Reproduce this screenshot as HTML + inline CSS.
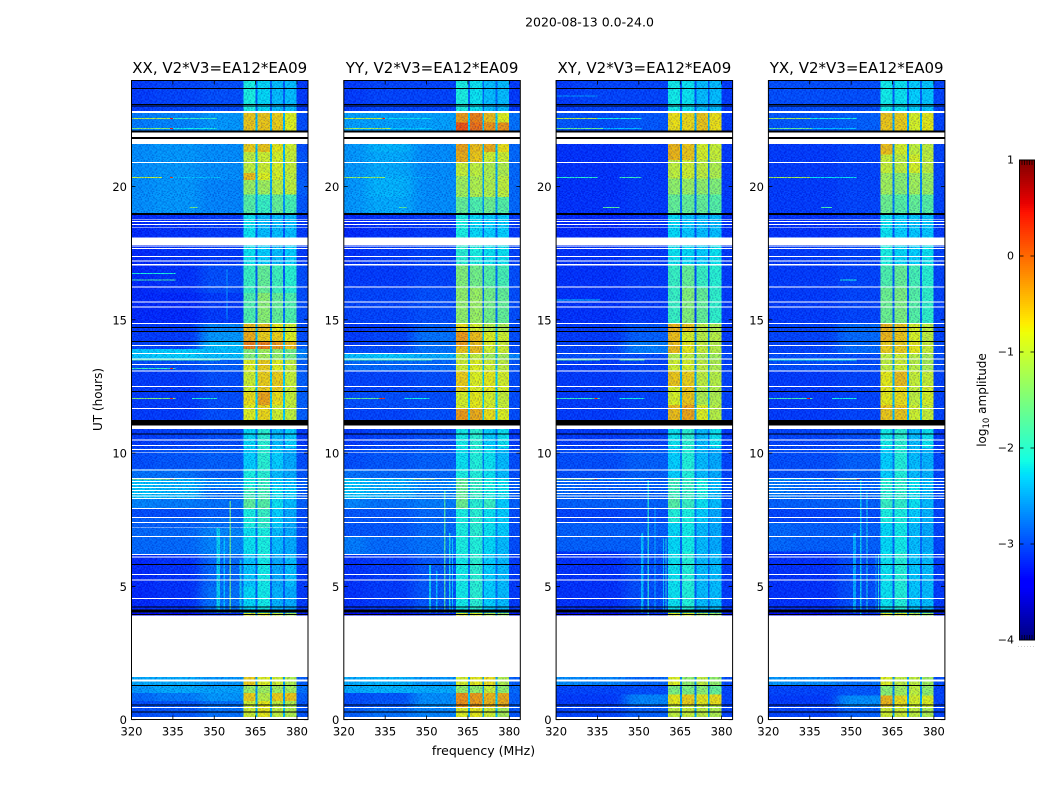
<!DOCTYPE html>
<html>
<head>
<meta charset="utf-8">
<title>2020-08-13 dynamic spectra</title>
<style>
html,body{margin:0;padding:0;background:#fff;width:1050px;height:800px;overflow:hidden}
svg{display:block}
text{font-family:"DejaVu Sans","Liberation Sans",sans-serif;fill:#000}
</style>
</head>
<body>
<svg id="fig" xmlns="http://www.w3.org/2000/svg" width="1050" height="800" viewBox="0 0 1050 800">
  <defs id="defs">
    <filter id="hblur" x="-10%" y="0%" width="120%" height="100%" color-interpolation-filters="sRGB"><feGaussianBlur stdDeviation="6 0"/></filter>
  </defs>
  <text x="589.5" y="26.5" text-anchor="middle" font-size="12.5">2020-08-13 0.0-24.0</text>
  <text x="483.5" y="755" text-anchor="middle" font-size="12.5">frequency (MHz)</text>
  <text transform="translate(102,399.5) rotate(-90)" text-anchor="middle" font-size="12">UT (hours)</text>
  <text transform="translate(986,400) rotate(-90)" text-anchor="middle" font-size="12">log<tspan font-size="8.5" dy="3">10</tspan><tspan dy="-3"> amplitude</tspan></text>
  <g id="panels"></g>
  <g id="colorbar"></g>
</svg>
<script>
// Axis ranges and tick labels
const freqTicks = [320, 335, 350, 365, 380];
const timeTicks = [0, 5, 10, 15, 20];
const colorbarTicks = [1, 0, -1, -2, -3, -4];
const colorbarMinorTicks = [1, 2, 3, 4, 5];
const panelTitles = ["XX, V2*V3=EA12*EA09", "YY, V2*V3=EA12*EA09", "XY, V2*V3=EA12*EA09", "YX, V2*V3=EA12*EA09"];

// Frequency cell edges (MHz); columns: low, mid, high background, band 1, gap, band 2, gap, band 3, gap, band 4, edge
const freqEdges = [320, 328, 345, 360.6, 365.0, 365.7, 370.2, 370.9, 375.0, 375.7, 379.9, 384];

// Rows: UT start, UT end, bgLow, bgMid, bgHigh, band1, band2, band3, band4, gap, edge (log10 amplitude)
const xxRows = [
[24,22.8,-3.1,-3.05,-3.0,-2.1,-2.25,-2.4,-2.4,-2.9,-3.1],
[22.8,21.6,-2.75,-2.7,-2.6,-0.55,-0.55,-0.6,-0.8,-2.4,-3.0],
[21.6,21.3,-2.65,-2.6,-2.65,-0.6,-0.55,-0.75,-0.9,-2.4,-3.0],
[21.3,20.5,-2.65,-2.6,-2.65,-1.0,-0.9,-0.85,-0.95,-2.4,-2.95],
[20.5,20.25,-2.65,-2.6,-2.65,-0.5,-0.8,-0.85,-1.0,-2.4,-2.95],
[20.25,19.7,-2.65,-2.6,-2.7,-1.25,-1.2,-1.05,-1.0,-2.5,-2.9],
[19.7,18.95,-2.65,-2.6,-2.7,-1.7,-1.9,-1.6,-1.8,-2.6,-2.95],
[18.95,18.1,-3.2,-3.15,-3.1,-2.2,-2.4,-2.4,-2.4,-2.95,-3.1],
[18.1,17.1,-3.2,-3.15,-3.1,-2.2,-2.3,-2.4,-2.3,-2.95,-3.1],
[17.1,16.0,-3.2,-3.15,-3.0,-1.9,-1.6,-1.85,-2.0,-2.9,-3.0],
[16.0,14.87,-3.2,-3.2,-3.1,-1.75,-1.35,-1.6,-1.75,-2.8,-3.0],
[14.87,14.57,-3.1,-3.1,-2.7,-0.5,-0.5,-0.75,-0.9,-2.4,-3.0],
[14.57,14.19,-3.1,-3.1,-2.6,-0.4,-0.6,-0.6,-0.8,-2.4,-3.0],
[14.19,13.9,-3.05,-3.05,-2.4,-0.15,-0.15,-0.3,-0.5,-2.3,-2.9],
[13.9,13.5,-2.35,-2.3,-2.4,-1.4,-1.2,-1.3,-1.5,-2.4,-2.7],
[13.5,13.08,-3.0,-3.0,-2.9,-0.8,-0.6,-0.8,-1.0,-2.4,-2.9],
[13.08,12.3,-3.1,-3.1,-3.0,-0.9,-0.6,-0.6,-0.95,-2.3,-2.9],
[12.3,11.8,-3.1,-3.1,-3.0,-0.7,-0.35,-0.7,-0.95,-2.3,-2.9],
[11.8,11.0,-3.1,-3.1,-3.0,-0.8,-0.65,-0.9,-1.0,-2.3,-2.9],
[11.0,10.2,-3.1,-3.05,-3.0,-2.25,-2.0,-2.4,-2.3,-2.8,-3.1],
[10.2,9.4,-3.0,-2.95,-2.9,-2.3,-2.0,-2.3,-2.5,-2.6,-3.0],
[9.4,9.05,-2.8,-2.8,-2.9,-2.1,-2.0,-2.4,-2.5,-2.6,-2.95],
[9.05,8.7,-2.35,-2.45,-2.7,-2.1,-1.9,-2.3,-2.4,-2.6,-2.9],
[8.7,8.3,-2.35,-2.45,-2.8,-1.85,-1.8,-2.2,-2.3,-2.6,-2.9],
[8.3,7.9,-2.7,-2.75,-2.8,-1.65,-1.7,-2.2,-2.4,-2.6,-2.9],
[7.9,7.6,-3.0,-3.0,-2.9,-2.1,-1.9,-2.3,-2.5,-2.7,-3.0],
[7.6,7.2,-2.9,-2.9,-2.8,-2.1,-1.95,-2.3,-2.5,-2.7,-3.0],
[7.2,6.2,-2.85,-2.85,-2.7,-2.2,-2.1,-2.4,-2.5,-2.8,-3.0],
[6.2,5.0,-3.2,-3.15,-2.85,-2.35,-2.15,-2.5,-2.4,-2.9,-3.1],
[5.0,4.0,-3.2,-3.15,-2.8,-2.25,-2.15,-2.45,-2.5,-2.9,-3.1],
[4.0,3.9,-3.4,-3.4,-3.2,-0.8,-0.8,-1.0,-1.2,-2.6,-3.3],
[1.6,1.29,-2.5,-2.5,-2.6,-0.6,-0.8,-0.9,-1.1,-2.5,-2.9],
[1.29,1.0,-2.6,-2.5,-2.55,-1.25,-1.2,-1.2,-1.2,-2.6,-2.8],
[1.0,0.7,-2.85,-2.75,-2.6,-0.6,-1.05,-0.6,-0.55,-2.5,-2.9],
[0.7,0.11,-3.0,-2.95,-2.8,-0.9,-0.75,-1.0,-1.1,-2.4,-2.95]
];
const yyRows = [
[24,22.8,-3.1,-3.05,-3.05,-2.1,-2.2,-2.4,-2.4,-2.85,-3.1],
[22.8,22.4,-2.55,-2.55,-2.55,-0.3,-0.15,-0.5,-0.8,-2.3,-2.8],
[22.4,21.6,-2.55,-2.55,-2.55,0.1,-0.05,-0.25,-0.25,-2.3,-2.8],
[21.6,21.3,-2.6,-2.45,-2.65,-0.35,-0.5,-0.4,-0.7,-2.4,-2.85],
[21.3,20.9,-2.6,-2.5,-2.65,-0.4,-0.55,-0.9,-0.9,-2.4,-2.85],
[20.9,20.4,-2.6,-2.5,-2.65,-0.95,-1.0,-1.1,-1.1,-2.5,-2.85],
[20.4,19.6,-2.6,-2.45,-2.65,-1.2,-1.1,-1.1,-1.0,-2.5,-2.85],
[19.6,18.95,-2.6,-2.5,-2.65,-1.6,-1.75,-1.55,-1.7,-2.6,-2.85],
[18.95,18.1,-3.2,-3.15,-3.1,-2.1,-2.25,-2.3,-2.3,-2.9,-3.1],
[18.1,17.1,-3.15,-3.1,-3.05,-2.0,-2.1,-2.2,-2.2,-2.85,-3.05],
[17.1,16.2,-3.1,-3.1,-3.05,-1.4,-1.5,-1.7,-1.8,-2.8,-3.0],
[16.2,14.87,-3.05,-3.05,-3.0,-1.3,-1.25,-1.5,-1.6,-2.8,-3.0],
[14.87,14.57,-3.1,-3.1,-2.9,-0.7,-0.85,-1.05,-1.1,-2.5,-3.0],
[14.57,14.0,-3.1,-3.05,-2.8,-0.3,-0.5,-0.8,-0.9,-2.4,-3.0],
[14.0,13.75,-3.0,-3.0,-2.8,-0.55,-0.5,-0.9,-0.9,-2.4,-3.0],
[13.75,13.5,-2.4,-2.35,-2.5,-1.0,-1.0,-1.2,-1.2,-2.4,-2.7],
[13.5,13.08,-2.85,-2.85,-2.85,-0.9,-0.8,-0.9,-1.0,-2.4,-2.95],
[13.08,12.3,-3.05,-3.05,-3.0,-0.6,-0.8,-0.75,-0.85,-2.3,-3.0],
[12.3,11.7,-3.0,-3.0,-3.0,-0.85,-0.75,-0.85,-0.95,-2.3,-3.0],
[11.7,11.0,-3.05,-3.05,-3.0,-0.3,-0.4,-0.7,-0.8,-2.3,-3.0],
[11.0,10.2,-3.1,-3.05,-3.0,-2.15,-2.0,-2.3,-2.2,-2.8,-3.1],
[10.2,9.4,-3.0,-2.95,-2.9,-2.2,-2.05,-2.2,-2.4,-2.7,-3.0],
[9.4,9.05,-2.8,-2.85,-2.85,-2.1,-2.05,-2.2,-2.4,-2.7,-3.0],
[9.05,8.3,-2.35,-2.5,-2.7,-1.6,-1.9,-2.1,-2.2,-2.6,-2.9],
[8.3,7.9,-2.7,-2.8,-2.75,-1.55,-2.0,-1.9,-2.3,-2.6,-2.9],
[7.9,6.9,-2.95,-2.95,-2.85,-2.1,-2.0,-2.2,-2.3,-2.7,-3.0],
[6.9,6.2,-2.75,-2.85,-2.8,-2.1,-2.05,-2.25,-2.4,-2.7,-3.0],
[6.2,4.0,-3.15,-3.1,-2.95,-2.15,-2.0,-2.3,-2.4,-2.8,-3.1],
[4.0,3.9,-3.4,-3.4,-3.2,-0.8,-0.8,-1.1,-1.25,-2.6,-3.3],
[1.6,1.29,-2.5,-2.45,-2.6,-0.85,-0.75,-0.7,-1.1,-2.5,-2.9],
[1.29,1.0,-2.5,-2.45,-2.5,-1.3,-1.3,-0.95,-1.3,-2.6,-2.85],
[1.0,0.45,-3.0,-2.95,-2.65,-0.25,-0.3,-0.45,-0.4,-2.3,-2.9],
[0.45,0.11,-2.9,-2.8,-2.7,-0.8,-0.75,-0.9,-1.15,-2.4,-2.95]
];
const xyRows = [
[24,22.8,-3.1,-3.05,-3.05,-2.15,-2.2,-2.4,-2.4,-2.95,-3.1],
[22.8,21.6,-2.95,-3.0,-2.95,-0.7,-0.65,-0.55,-0.7,-2.5,-3.1],
[21.6,21.0,-3.15,-3.15,-3.1,-0.45,-0.55,-0.85,-0.95,-2.7,-3.1],
[21.0,20.3,-3.15,-3.15,-3.1,-1.0,-0.9,-1.0,-1.1,-2.75,-3.1],
[20.3,19.7,-3.15,-3.15,-3.1,-1.3,-1.25,-1.3,-1.4,-2.8,-3.1],
[19.7,18.95,-3.15,-3.15,-3.1,-1.6,-1.6,-1.6,-1.7,-2.8,-3.1],
[18.95,18.1,-3.2,-3.2,-3.15,-2.25,-2.35,-2.4,-2.4,-2.95,-3.15],
[18.1,17.1,-3.15,-3.15,-3.1,-2.2,-2.25,-2.3,-2.2,-2.95,-3.1],
[17.1,16.2,-3.15,-3.15,-3.1,-1.9,-1.6,-1.9,-2.0,-3.0,-3.1],
[16.2,14.87,-3.15,-3.15,-3.1,-1.9,-1.4,-1.6,-1.95,-3.05,-3.1],
[14.87,14.57,-3.1,-3.1,-2.95,-0.45,-0.55,-1.0,-1.1,-2.7,-3.1],
[14.57,14.19,-3.1,-3.1,-2.9,-0.5,-0.85,-1.05,-1.05,-2.7,-3.1],
[14.19,13.75,-3.05,-3.05,-2.75,-0.5,-0.75,-0.95,-1.05,-2.6,-3.05],
[13.75,13.5,-3.0,-3.0,-3.0,-1.1,-1.0,-1.15,-1.2,-2.6,-3.0],
[13.5,13.08,-3.1,-3.1,-3.05,-0.9,-0.85,-1.0,-1.1,-2.6,-3.05],
[13.08,12.5,-3.1,-3.1,-3.05,-0.55,-0.6,-1.0,-1.05,-2.5,-3.05],
[12.5,11.8,-3.1,-3.1,-3.05,-0.85,-0.55,-1.1,-1.1,-2.5,-3.05],
[11.8,11.0,-3.1,-3.1,-3.05,-0.5,-0.35,-0.8,-1.05,-2.5,-3.05],
[11.0,10.2,-3.1,-3.1,-3.05,-2.2,-2.0,-2.4,-2.2,-2.85,-3.1],
[10.2,9.05,-3.0,-3.0,-2.9,-2.3,-2.05,-2.4,-2.5,-2.75,-3.05],
[9.05,8.3,-2.85,-2.9,-2.9,-1.85,-1.9,-2.1,-2.4,-2.65,-3.0],
[8.3,7.9,-2.9,-2.9,-2.9,-1.7,-1.9,-2.2,-2.4,-2.65,-3.0],
[7.9,7.4,-3.05,-3.05,-3.0,-2.05,-2.1,-2.3,-2.5,-2.75,-3.05],
[7.4,6.3,-2.9,-2.9,-2.9,-2.25,-2.15,-2.4,-2.5,-2.85,-3.05],
[6.3,4.0,-3.15,-3.15,-3.0,-2.2,-2.05,-2.4,-2.4,-2.9,-3.1],
[4.0,3.9,-3.4,-3.4,-3.2,-0.8,-0.8,-1.1,-1.25,-2.6,-3.3],
[1.6,1.29,-2.65,-2.7,-2.85,-0.8,-1.3,-1.0,-1.3,-2.6,-3.0],
[1.29,0.95,-3.05,-3.05,-3.0,-1.45,-1.45,-1.35,-1.6,-2.8,-3.05],
[0.95,0.55,-3.1,-3.1,-2.7,-0.75,-0.6,-0.75,-0.7,-2.5,-3.05],
[0.55,0.11,-3.05,-3.05,-2.9,-1.0,-0.95,-1.0,-1.1,-2.5,-3.05]
];
const yxRows = [
[24,22.8,-3.0,-3.0,-3.0,-2.15,-2.2,-2.3,-2.35,-2.9,-3.05],
[22.8,21.6,-2.95,-2.95,-2.9,-0.55,-0.6,-0.85,-0.75,-2.5,-3.05],
[21.6,21.2,-3.1,-3.1,-3.05,-0.5,-0.85,-1.0,-1.0,-2.6,-3.05],
[21.2,20.5,-3.1,-3.1,-3.05,-0.95,-1.0,-0.85,-1.0,-2.6,-3.05],
[20.5,19.7,-3.1,-3.1,-3.05,-1.2,-1.35,-1.2,-1.25,-2.7,-3.05],
[19.7,18.95,-3.1,-3.1,-3.05,-1.55,-1.7,-1.6,-1.7,-2.75,-3.05],
[18.95,18.1,-3.15,-3.15,-3.1,-2.2,-2.3,-2.35,-2.35,-2.95,-3.1],
[18.1,17.1,-3.1,-3.1,-3.05,-2.1,-2.25,-2.3,-2.2,-2.9,-3.05],
[17.1,16.2,-3.1,-3.1,-3.05,-1.75,-1.6,-1.8,-2.0,-2.9,-3.05],
[16.2,14.87,-3.1,-3.1,-3.05,-1.55,-1.45,-1.7,-1.95,-2.9,-3.05],
[14.87,14.19,-3.05,-3.05,-2.85,-0.45,-0.55,-0.85,-1.0,-2.6,-3.05],
[14.19,13.75,-3.05,-3.05,-2.85,-0.6,-0.6,-0.75,-0.95,-2.5,-3.0],
[13.75,13.08,-3.0,-3.0,-3.0,-1.0,-0.9,-1.05,-1.15,-2.5,-3.0],
[13.08,12.5,-3.1,-3.1,-3.05,-0.75,-0.5,-0.95,-0.95,-2.4,-3.05],
[12.5,11.8,-3.1,-3.1,-3.05,-0.75,-0.7,-1.0,-0.85,-2.4,-3.05],
[11.8,11.0,-3.1,-3.1,-3.05,-0.55,-0.55,-0.9,-0.95,-2.4,-3.05],
[11.0,10.2,-3.05,-3.05,-3.0,-2.15,-2.0,-2.4,-2.2,-2.85,-3.1],
[10.2,9.05,-3.0,-3.0,-2.9,-2.3,-2.05,-2.4,-2.45,-2.75,-3.05],
[9.05,8.3,-2.75,-2.85,-2.85,-2.0,-1.95,-2.2,-2.4,-2.65,-3.0],
[8.3,7.9,-2.9,-2.9,-2.9,-1.9,-1.95,-2.2,-2.4,-2.65,-3.0],
[7.9,7.4,-3.05,-3.05,-3.0,-2.1,-2.1,-2.3,-2.45,-2.75,-3.05],
[7.4,6.3,-2.85,-2.9,-2.9,-2.25,-2.15,-2.4,-2.5,-2.85,-3.05],
[6.3,4.0,-3.15,-3.15,-3.0,-2.2,-2.05,-2.35,-2.4,-2.9,-3.1],
[4.0,3.9,-3.4,-3.4,-3.2,-0.8,-0.8,-1.05,-1.25,-2.6,-3.3],
[1.6,1.29,-2.6,-2.65,-2.8,-0.8,-1.0,-1.0,-1.2,-2.6,-3.0],
[1.29,0.9,-3.05,-3.05,-2.95,-1.35,-1.2,-1.0,-1.3,-2.7,-3.05],
[0.9,0.5,-3.1,-3.1,-2.65,-0.45,-0.7,-0.85,-0.8,-2.5,-3.05],
[0.5,0.11,-3.05,-3.05,-2.9,-0.9,-0.9,-1.0,-1.1,-2.5,-3.05]
];

// Narrow-band interference lines: UT, start MHz, end MHz, level
const xxPeaks = [
[22.56,320,334,-1.1],[22.56,334,335,0.4],[22.56,335,351,-1.9],[22.18,320,334,-1.4],[22.18,334,335,0.4],[22.18,335,351,-2.1],
[20.34,320,331,-1.0],[20.34,334,335,0.2],[20.34,335,352,-2.4],[19.22,341,344,-1.5],[16.74,320,336,-2.1],[16.49,320,336,-1.8],
[13.49,320,352,-1.8],[13.18,320,336,-1.9],[13.18,334,335,0.3],[12.05,320,336,-1.4],[12.05,334,335,0.4],[12.05,342,351,-2.0],[9.03,320,336,-1.0],[9.03,334,335,0.5],[9.03,336,352,-2.4]
];
const yyPeaks = [
[22.56,320,334,-1.0],[22.56,334,335,0.4],[22.56,335,352,-2.2],[22.18,320,337,-1.2],[22.18,337,352,-2.3],
[20.34,320,335,-1.3],[20.34,335,352,-2.5],[19.22,340,343,-1.7],[13.49,320,352,-1.8],[12.05,320,335,-1.6],[12.05,333,335,0.3],[12.05,342,351,-2.1],[9.03,320,345,-2.2],[9.03,345,353,-1.2]
];
const xyPeaks = [
[23.4,320,335,-2.6],[22.56,320,335,-1.1],[22.56,335,351,-2.1],[22.18,320,337,-1.6],[22.18,337,351,-2.4],
[20.34,320,335,-2.0],[20.34,343,351,-1.9],[19.22,337,343,-1.7],[15.75,320,336,-2.3],[13.49,320,336,-1.7],[13.49,343,352,-1.7],[12.05,320,336,-1.9],[12.05,334,335,0.3],[12.05,343,352,-2.1],[9.03,320,335,-1.2],[9.03,334,335,0.3],[9.03,335,352,-2.4]
];
const yxPeaks = [
[22.56,320,335,-1.2],[22.56,335,352,-2.1],[22.18,320,336,-1.6],[22.18,336,352,-2.4],[20.34,320,335,-1.2],[20.34,335,352,-2.2],[19.22,339,343,-1.8],
[13.49,320,352,-2.1],[12.05,320,336,-1.8],[12.05,334,335,0.4],[12.05,343,352,-2.1],[9.03,320,340,-2.2],[9.03,344,352,-1.2],[9.03,352,353,0.3],[16.49,346,352,-2.1]
];

// Vertical interference: start MHz, end MHz, UT start, UT end, level
const xxVerticals = [[350.9,352.1,4.0,7.2,-2.2],[353.4,353.9,4.0,6.8,-2.3],[355.6,356.1,4.0,8.2,-1.5],[359.2,359.8,4.0,6.0,-2.2],[354.4,354.8,15.0,16.9,-2.5]];
const yyVerticals = [[350.9,351.6,4.0,5.8,-2.2],[353.4,353.9,4.0,5.6,-2.3],[356.4,356.9,4.0,8.6,-1.7],[358.2,358.6,4.0,7.0,-2.1],[359.2,359.6,4.0,6.8,-2.2]];
const xyVerticals = [[350.7,351.7,4.0,7.0,-2.3],[353.2,353.7,3.9,9.0,-2.0],[355.6,356.0,4.0,8.0,-2.4],[358.8,359.1,4.0,6.8,-2.3],[359.7,360.1,4.0,6.8,-2.0]];
const yxVerticals = [[350.7,351.7,4.0,7.0,-2.4],[353.2,353.7,3.9,9.0,-2.2],[355.6,356.0,4.0,8.6,-2.1],[358.9,359.2,4.0,6.2,-2.4],[359.8,360.1,4.0,6.2,-2.0]];

// Time ranges flagged in every panel (UT start, UT end)
const whiteFlags = [
[22.84,22.76],[22.02,21.86],[21.79,21.59],[20.92,20.885],[18.79,18.755],[18.70,18.665],[18.60,18.565],[18.49,18.455],[18.09,17.81],[17.78,17.745],[17.70,17.665],
[17.39,17.355],[17.23,17.195],[17.10,17.04],[16.24,16.205],[15.69,15.655],[15.50,15.465],[14.88,14.845],[14.05,14.015],[13.75,13.715],[13.55,13.515],[13.34,13.305],[13.09,13.055],[12.52,12.485],
[11.69,11.655],[11.03,10.90],[10.51,10.475],[10.30,10.265],[10.15,10.115],[10.05,10.015],[9.38,9.345],[9.06,9.025],[8.96,8.925],[8.84,8.805],[8.73,8.695],[8.61,8.575],[8.51,8.475],[8.41,8.375],[8.31,8.275],
[7.94,7.905],[7.60,7.565],[7.41,7.375],[6.89,6.855],[6.21,6.175],[6.12,6.085],[5.46,5.425],[5.25,5.215],[4.56,4.525],[3.90,1.60],[1.51,1.44],[0.48,0.445],[0.11,0]
];
const blackFlags = [
[23.69,23.655],[23.09,23.055],[23.03,22.995],[22.11,22.02],[21.86,21.79],[19.00,18.93],[14.73,14.695],[14.58,14.545],[14.20,14.165],[12.33,12.295],[11.24,11.03],[10.73,10.695],[5.84,5.805],[4.25,4.215],[4.14,4.03],[3.96,3.935],[1.30,1.265],[0.57,0.535],[0.31,0.275]
];

// Channel-to-channel speckle (0 darkest ... 9 brightest), tiled under the flags
const speckleRows = [
"372905148263917405826139",
"618340792516083947251680",
"250971634829460172593847",
"794126085371928640317295",
"431682907254613089746120",
"907453216890742561398264",
"286017943562180734905317",
"563729180416395827064192",
"140896372905261748359026",
"829351604718037296481573",
"375620489163954082716340",
"601948273540826317592984",
"958213067492571640823706",
"213764895031698275140569",
"746092518327405961837210",
"084537261986143520679438"
];

const panelLefts = [131.5, 343.8, 556.1, 768.4];
const panelRowSets = [xxRows, yyRows, xyRows, yxRows];
const panelPeakSets = [xxPeaks, yyPeaks, xyPeaks, yxPeaks];
const panelVerticalSets = [xxVerticals, yyVerticals, xyVerticals, yxVerticals];
const panelKeys = ["xx", "yy", "xy", "yx"];

const NS = "http://www.w3.org/2000/svg";
const PX_PER_MHZ = 2.758;
const PX_PER_HOUR = 26.66;
const Y_ZERO = 719.7;
const PANEL_W = 176.5;
const PANEL_TOP = 80.5;
const PANEL_BOTTOM = 719.5;

function xScale(left, mhz) { return left + (mhz - 320) * PX_PER_MHZ; }
function yScale(hour) { return Y_ZERO - hour * PX_PER_HOUR; }
function interp(pts, f) {
  for (let i = 1; i < pts.length; i++) {
    if (f <= pts[i][0]) {
      const a = pts[i - 1], b = pts[i];
      return a[1] + (b[1] - a[1]) * (f - a[0]) / (b[0] - a[0]);
    }
  }
  return pts[pts.length - 1][1];
}
const jetR = [[0,0],[0.35,0],[0.66,1],[0.89,1],[1,0.5]];
const jetG = [[0,0],[0.125,0],[0.375,1],[0.64,1],[0.91,0],[1,0]];
const jetB = [[0,0.5],[0.11,1],[0.34,1],[0.65,0],[1,0]];
function colorOf(level) {
  const f = Math.max(0, Math.min(1, (level + 4) / 5));
  const c = [jetR, jetG, jetB].map(function (p) { return Math.round(interp(p, f) * 255); });
  return "rgb(" + c.join(",") + ")";
}
function make(tag, parent, attrs) {
  const el = document.createElementNS(NS, tag);
  for (const k in attrs) el.setAttribute(k, attrs[k]);
  parent.appendChild(el);
  return el;
}

// Speckle pattern shared by all panels
const defs = document.getElementById("defs");
const CELL_W = 1.38, CELL_H = 1.06;
const pattern = make("pattern", defs, {
  id: "speckle", patternUnits: "userSpaceOnUse",
  width: CELL_W * speckleRows[0].length, height: CELL_H * speckleRows.length
});
speckleRows.forEach(function (row, r) {
  for (let c = 0; c < row.length; c++) {
    const d = Number(row[c]);
    const strength = Math.abs(d - 4.5) * (d > 4.5 ? 0.045 : 0.075);
    make("rect", pattern, {
      x: c * CELL_W, y: r * CELL_H, width: CELL_W, height: CELL_H,
      fill: d > 4.5 ? "rgb(40,170,255)" : "rgb(0,0,150)",
      "fill-opacity": strength.toFixed(3)
    });
  }
});

const panelsRoot = document.getElementById("panels");

function drawPanel(index) {
  const left = panelLefts[index];
  const key = panelKeys[index];
  const group = make("g", panelsRoot, {});
  
  

  const clipId = "clip-" + key;
  const clip = make("clipPath", defs, { id: clipId });
  make("rect", clip, { x: left, y: PANEL_TOP, width: PANEL_W, height: PANEL_BOTTOM - PANEL_TOP });

  const heat = make("g", group, { "clip-path": "url(#" + clipId + ")", "shape-rendering": "crispEdges" });
  
  

  // Background channels are softened across frequency; receiver bands stay sharp
  const bgCells = make("g", heat, { filter: "url(#hblur)" });
  
  
  const bandCells = make("g", heat, {});
  
  

  // Column order in a row record -> value index
  const colIndex = [2, 3, 4, 5, 9, 6, 9, 7, 9, 8, 10];
  panelRowSets[index].forEach(function (row) {
    const y0 = yScale(row[0]), y1 = yScale(row[1]);
    for (let c = 0; c < colIndex.length; c++) {
      let x0 = xScale(left, freqEdges[c]), x1 = xScale(left, freqEdges[c + 1]);
      if (c === 0) x0 -= 30;
      if (c === 2) x1 += 30;
      const cell = make("rect", c < 3 ? bgCells : bandCells, {
        x: x0.toFixed(2), y: y0.toFixed(2), width: (x1 - x0).toFixed(2), height: (y1 - y0).toFixed(2),
        fill: colorOf(row[colIndex[c]])
      });
      
      
    }
  });

  panelVerticalSets[index].forEach(function (v) {
    const x0 = xScale(left, v[0]), x1 = xScale(left, v[1]);
    const line = make("rect", heat, {
      x: x0.toFixed(2), y: yScale(v[3]).toFixed(2), width: (x1 - x0).toFixed(2),
      height: (yScale(v[2]) - yScale(v[3])).toFixed(2), fill: colorOf(v[4]), "fill-opacity": 0.8
    });
    
    
  });

  panelPeakSets[index].forEach(function (p) {
    const x0 = xScale(left, p[1]), x1 = xScale(left, p[2]);
    const line = make("rect", heat, {
      x: x0.toFixed(2), y: (yScale(p[0]) - 0.5).toFixed(2), width: (x1 - x0).toFixed(2), height: 1, fill: colorOf(p[3])
    });
    
    
  });

  const grain = make("rect", heat, { x: left, y: PANEL_TOP, width: PANEL_W, height: PANEL_BOTTOM - PANEL_TOP, fill: "url(#speckle)" });
  
  

  whiteFlags.forEach(function (f) {
    const band = make("rect", heat, { x: left, y: yScale(f[0]).toFixed(2), width: PANEL_W, height: (yScale(f[1]) - yScale(f[0])).toFixed(2), fill: "#fff" });
    
    
  });
  blackFlags.forEach(function (f) {
    const band = make("rect", heat, { x: left, y: yScale(f[0]).toFixed(2), width: PANEL_W, height: (yScale(f[1]) - yScale(f[0])).toFixed(2), fill: "#000" });
    
    
  });

  const frame = make("rect", group, { x: left, y: PANEL_TOP, width: PANEL_W, height: PANEL_BOTTOM - PANEL_TOP, fill: "none", stroke: "#000", "stroke-width": 1 });
  
  

  freqTicks.forEach(function (v) {
    const x = xScale(left, v);
    const bottomTick = make("line", group, { x1: x, x2: x, y1: PANEL_BOTTOM, y2: PANEL_BOTTOM - 4, stroke: "#000", "stroke-width": 0.8 });
    
    
    const topTick = make("line", group, { x1: x, x2: x, y1: PANEL_TOP, y2: PANEL_TOP + 4, stroke: "#000", "stroke-width": 0.8 });
    
    
    const label = make("text", group, { x: x, y: 735.5, "text-anchor": "middle", "font-size": 11.5 });
    
    
    label.textContent = v;
  });
  timeTicks.forEach(function (v) {
    const y = yScale(v);
    const leftTick = make("line", group, { x1: left, x2: left + 4, y1: y, y2: y, stroke: "#000", "stroke-width": 0.8 });
    
    
    const rightTick = make("line", group, { x1: left + PANEL_W, x2: left + PANEL_W - 4, y1: y, y2: y, stroke: "#000", "stroke-width": 0.8 });
    
    
    const label = make("text", group, { x: left - 4.5, y: y + 4.5, "text-anchor": "end", "font-size": 11.5 });
    
    
    label.textContent = v;
  });

  const title = make("text", group, { x: left + PANEL_W / 2, y: 73, "text-anchor": "middle", "font-size": 15 });
  
  
  title.textContent = panelTitles[index];
}
panelLefts.forEach(function (_, i) { drawPanel(i); });

// Colorbar
const cbRoot = document.getElementById("colorbar");
const CB_LEFT = 1019.5, CB_W = 15, CB_TOP = 160, CB_BOTTOM = 640;
function cbY(level) { return CB_TOP + (1 - level) * (CB_BOTTOM - CB_TOP) / 5; }
const cbSwatches = make("g", cbRoot, { "shape-rendering": "crispEdges" });
for (let py = CB_TOP; py < CB_BOTTOM; py += 2) {
  const level = 1 - (py + 1 - CB_TOP) * 5 / (CB_BOTTOM - CB_TOP);
  const swatch = make("rect", cbSwatches, { x: CB_LEFT, y: py, width: CB_W, height: 2, fill: colorOf(level) });
  
  
}
const cbFrame = make("rect", cbRoot, { x: CB_LEFT, y: CB_TOP, width: CB_W, height: CB_BOTTOM - CB_TOP, fill: "none", stroke: "#000", "stroke-width": 1 });


colorbarTicks.forEach(function (v) {
  const y = cbY(v);
  const l = make("line", cbRoot, { x1: CB_LEFT, x2: CB_LEFT + 4, y1: y, y2: y, stroke: "#000", "stroke-width": 0.8 });
  
  
  const r = make("line", cbRoot, { x1: CB_LEFT + CB_W - 4, x2: CB_LEFT + CB_W, y1: y, y2: y, stroke: "#000", "stroke-width": 0.8 });
  
  
  const label = make("text", cbRoot, { x: 1014, y: y + 3.5, "text-anchor": "end", "font-size": 11 });
  
  
  label.textContent = v < 0 ? "\u2212" + Math.abs(v) : String(v);
});
colorbarMinorTicks.forEach(function (n) {
  const x = CB_LEFT + n * CB_W / 6;
  const top = make("line", cbRoot, { x1: x, x2: x, y1: CB_TOP, y2: CB_TOP + 5, stroke: "#000", "stroke-width": 0.7 });
  
  
  const bottom = make("line", cbRoot, { x1: x, x2: x, y1: CB_BOTTOM, y2: CB_BOTTOM - 5, stroke: "#000", "stroke-width": 0.7 });
  
  
});
const cbDots = make("text", cbRoot, { x: 1026.5, y: 647, "text-anchor": "middle", "font-size": 5.6, "letter-spacing": "1.2", style: "fill:#777" });


cbDots.textContent = "......";
</script>
</body>
</html>
